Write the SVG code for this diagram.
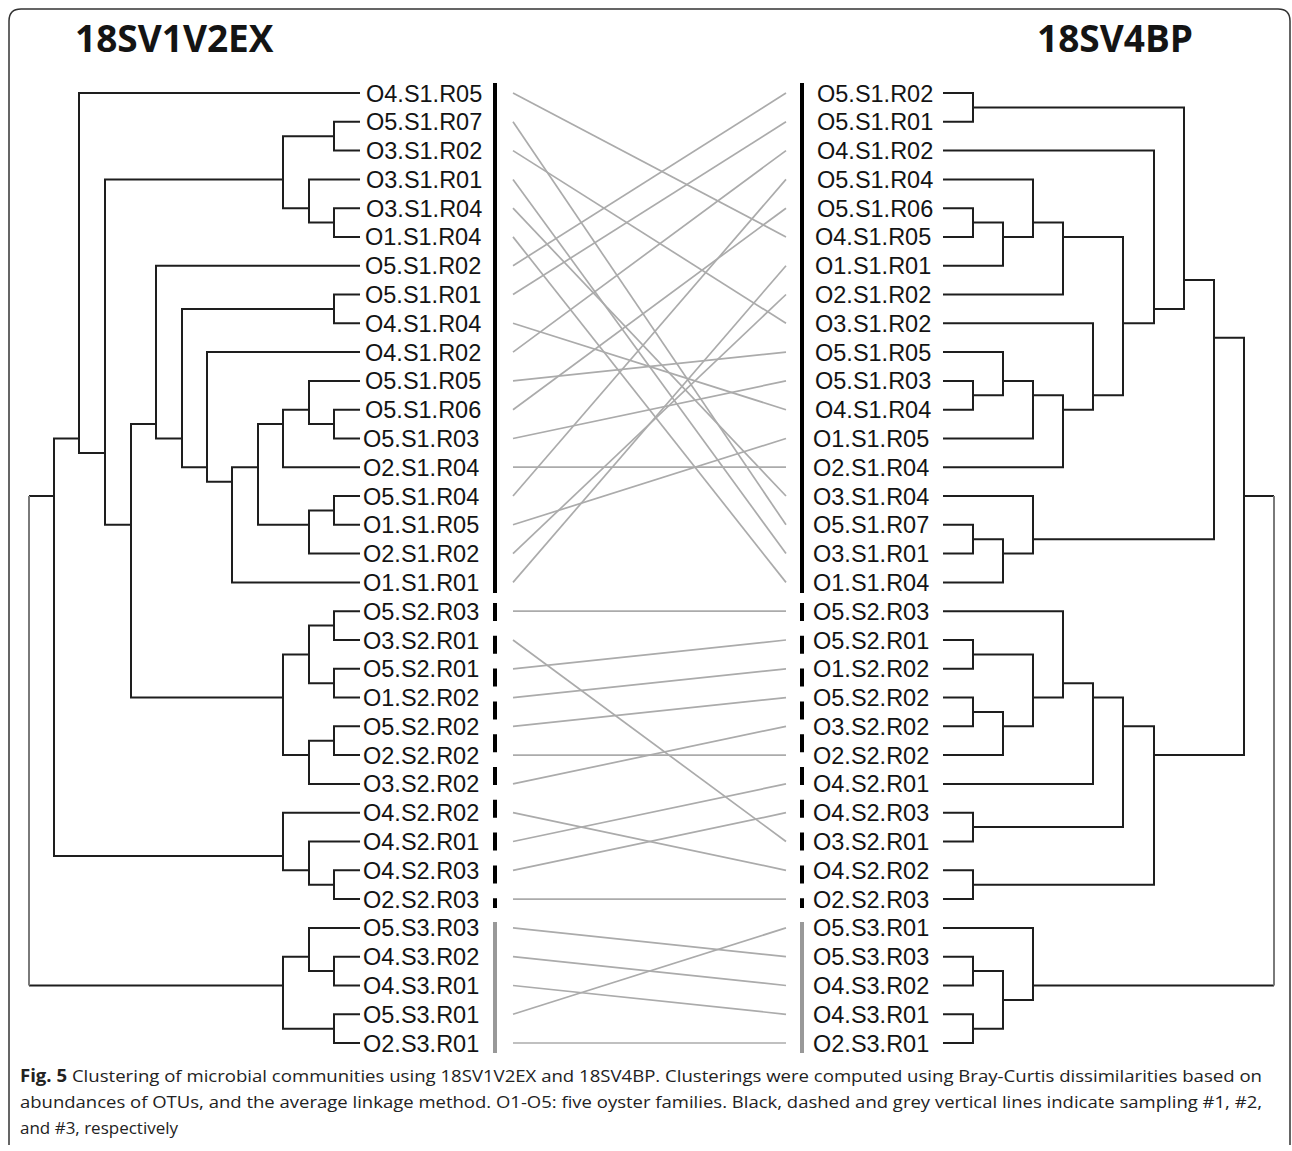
<svg xmlns="http://www.w3.org/2000/svg" width="1292" height="1151" viewBox="0 0 1292 1151">
<style>
.tr{fill:none;stroke:#1e1e1e;stroke-width:2}
.rt{fill:none;stroke:#7a7a7a;stroke-width:2}
.cn{stroke:#ababab;stroke-width:1.7}
.lb{font-family:"Liberation Sans","Open Sans",sans-serif;font-size:23.5px;fill:#141414}
.tt{font-family:"Open Sans","DejaVu Sans",sans-serif;font-size:37px;font-weight:bold;fill:#141414}
.cap{font-family:"Open Sans","Liberation Sans",sans-serif;font-size:17px;fill:#222}
.s1{stroke:#000;stroke-width:4}
.s2{stroke:#000;stroke-width:4;stroke-dasharray:18 14.8}
.s3{stroke:#999;stroke-width:4}
</style>
<rect x="0" y="0" width="1292" height="1151" fill="#fff"/>
<path d="M9 1145 V21 Q9 9 21 9 H1278 Q1290 9 1290 21 V1145" fill="none" stroke="#333" stroke-width="1.5"/>
<g id="titles">
<text class="tt" x="75" y="52">18SV1V2EX</text>
<text class="tt" x="1037" y="52">18SV4BP</text>
</g>
<g id="left-tree">
<path class="tr" d="M360 121.8 H334 V150.6 H360"/>
<path class="tr" d="M360 208.2 H334 V236.9 H360"/>
<path class="tr" d="M360 179.4 H309 V222.6 H334"/>
<path class="tr" d="M334 136.2 H283 V208.2 H309"/>
<path class="tr" d="M360 294.5 H334 V323.3 H360"/>
<path class="tr" d="M360 409.7 H334 V438.5 H360"/>
<path class="tr" d="M360 380.9 H309 V424.1 H334"/>
<path class="tr" d="M309 409.7 H283 V467.2 H360"/>
<path class="tr" d="M360 496 H334 V524.8 H360"/>
<path class="tr" d="M334 510.4 H309 V553.6 H360"/>
<path class="tr" d="M283 424.1 H258 V524.8 H309"/>
<path class="tr" d="M258 467.2 H232 V582.4 H360"/>
<path class="tr" d="M360 352.1 H207 V481.7 H232"/>
<path class="tr" d="M334 308.9 H182 V467.2 H207"/>
<path class="tr" d="M360 265.7 H156 V438.5 H182"/>
<path class="tr" d="M360 611.2 H334 V640 H360"/>
<path class="tr" d="M360 668.8 H334 V697.6 H360"/>
<path class="tr" d="M334 625.6 H309 V683.2 H334"/>
<path class="tr" d="M360 726.3 H334 V755.1 H360"/>
<path class="tr" d="M334 740.7 H309 V783.9 H360"/>
<path class="tr" d="M309 654.4 H283 V755.1 H309"/>
<path class="tr" d="M156 424.1 H131 V697.6 H283"/>
<path class="tr" d="M283 179.4 H105 V524.8 H131"/>
<path class="tr" d="M360 93 H79 V452.9 H105"/>
<path class="tr" d="M360 870.3 H334 V899.1 H360"/>
<path class="tr" d="M360 841.5 H309 V884.7 H334"/>
<path class="tr" d="M360 812.7 H283 V870.3 H309"/>
<path class="tr" d="M79 438.5 H54 V855.9 H283"/>
<path class="tr" d="M360 956.7 H334 V985.5 H360"/>
<path class="tr" d="M360 927.9 H309 V971.1 H334"/>
<path class="tr" d="M360 1014.3 H334 V1043 H360"/>
<path class="tr" d="M309 956.7 H283 V1028.7 H334"/>
<path class="tr" d="M54 496.1 H29 M29 985.5 H283"/>
<path class="rt" d="M29 496.1 V985.5"/>
</g>
<g id="right-tree">
<path class="tr" d="M943 93 H973 V121.8 H943"/>
<path class="tr" d="M943 208.2 H973 V236.9 H943"/>
<path class="tr" d="M973 222.6 H1003 V265.7 H943"/>
<path class="tr" d="M943 179.4 H1033 V237 H1003"/>
<path class="tr" d="M1033 222.6 H1063 V294.5 H943"/>
<path class="tr" d="M943 380.9 H973 V409.7 H943"/>
<path class="tr" d="M943 352.1 H1003 V395.3 H973"/>
<path class="tr" d="M1003 380.9 H1033 V438.5 H943"/>
<path class="tr" d="M1033 395.3 H1063 V467.2 H943"/>
<path class="tr" d="M943 323.3 H1093 V409.7 H1063"/>
<path class="tr" d="M1063 237 H1123 V395.3 H1093"/>
<path class="tr" d="M943 150.6 H1154 V323.3 H1123"/>
<path class="tr" d="M973 107.4 H1184 V308.9 H1154"/>
<path class="tr" d="M943 524.8 H973 V553.6 H943"/>
<path class="tr" d="M973 539.2 H1003 V582.4 H943"/>
<path class="tr" d="M943 496 H1033 V553.6 H1003"/>
<path class="tr" d="M1184 280.1 H1214 V539.2 H1033"/>
<path class="tr" d="M943 640 H973 V668.8 H943"/>
<path class="tr" d="M943 697.6 H973 V726.3 H943"/>
<path class="tr" d="M973 712 H1003 V755.1 H943"/>
<path class="tr" d="M973 654.4 H1033 V726.3 H1003"/>
<path class="tr" d="M943 611.2 H1063 V697.6 H1033"/>
<path class="tr" d="M1063 683.2 H1093 V783.9 H943"/>
<path class="tr" d="M943 812.7 H973 V841.5 H943"/>
<path class="tr" d="M1093 697.6 H1123 V827.1 H973"/>
<path class="tr" d="M943 870.3 H973 V899.1 H943"/>
<path class="tr" d="M1123 726.3 H1154 V884.7 H973"/>
<path class="tr" d="M1214 337.7 H1244 V755.1 H1154"/>
<path class="tr" d="M943 956.7 H973 V985.5 H943"/>
<path class="tr" d="M943 1014.3 H973 V1043 H943"/>
<path class="tr" d="M973 971.1 H1003 V1028.7 H973"/>
<path class="tr" d="M943 927.9 H1033 V999.9 H1003"/>
<path class="tr" d="M1244 496.1 H1274 M1033 985.5 H1274"/>
<path class="rt" d="M1274 496.1 V985.5"/>
</g>
<g id="sampling-bars">
<line class="s1" x1="495" y1="83" x2="495" y2="593"/>
<line class="s2" x1="495" y1="603" x2="495" y2="908"/>
<line class="s3" x1="495" y1="922" x2="495" y2="1053"/>
<line class="s1" x1="802" y1="83" x2="802" y2="593"/>
<line class="s2" x1="802" y1="603" x2="802" y2="908"/>
<line class="s3" x1="802" y1="922" x2="802" y2="1053"/>
</g>
<g id="connectors">
<line class="cn" x1="513" y1="93" x2="786" y2="236.9"/>
<line class="cn" x1="513" y1="121.8" x2="786" y2="524.8"/>
<line class="cn" x1="513" y1="150.6" x2="786" y2="323.3"/>
<line class="cn" x1="513" y1="179.4" x2="786" y2="553.6"/>
<line class="cn" x1="513" y1="208.2" x2="786" y2="496"/>
<line class="cn" x1="513" y1="236.9" x2="786" y2="582.4"/>
<line class="cn" x1="513" y1="265.7" x2="786" y2="93"/>
<line class="cn" x1="513" y1="294.5" x2="786" y2="121.8"/>
<line class="cn" x1="513" y1="323.3" x2="786" y2="409.7"/>
<line class="cn" x1="513" y1="352.1" x2="786" y2="150.6"/>
<line class="cn" x1="513" y1="380.9" x2="786" y2="352.1"/>
<line class="cn" x1="513" y1="409.7" x2="786" y2="208.2"/>
<line class="cn" x1="513" y1="438.5" x2="786" y2="380.9"/>
<line class="cn" x1="513" y1="467.2" x2="786" y2="467.2"/>
<line class="cn" x1="513" y1="496" x2="786" y2="179.4"/>
<line class="cn" x1="513" y1="524.8" x2="786" y2="438.5"/>
<line class="cn" x1="513" y1="553.6" x2="786" y2="294.5"/>
<line class="cn" x1="513" y1="582.4" x2="786" y2="265.7"/>
<line class="cn" x1="513" y1="611.2" x2="786" y2="611.2"/>
<line class="cn" x1="513" y1="640" x2="786" y2="841.5"/>
<line class="cn" x1="513" y1="668.8" x2="786" y2="640"/>
<line class="cn" x1="513" y1="697.6" x2="786" y2="668.8"/>
<line class="cn" x1="513" y1="726.3" x2="786" y2="697.6"/>
<line class="cn" x1="513" y1="755.1" x2="786" y2="755.1"/>
<line class="cn" x1="513" y1="783.9" x2="786" y2="726.3"/>
<line class="cn" x1="513" y1="812.7" x2="786" y2="870.3"/>
<line class="cn" x1="513" y1="841.5" x2="786" y2="783.9"/>
<line class="cn" x1="513" y1="870.3" x2="786" y2="812.7"/>
<line class="cn" x1="513" y1="899.1" x2="786" y2="899.1"/>
<line class="cn" x1="513" y1="927.9" x2="786" y2="956.7"/>
<line class="cn" x1="513" y1="956.7" x2="786" y2="985.5"/>
<line class="cn" x1="513" y1="985.5" x2="786" y2="1014.3"/>
<line class="cn" x1="513" y1="1014.3" x2="786" y2="927.9"/>
<line class="cn" x1="513" y1="1043" x2="786" y2="1043"/>
</g>
<g id="left-labels" class="lb">
<g id="L-O4.S1.R05"><text x="366" y="101.5">O4.S1.R05</text></g>
<g id="L-O5.S1.R07"><text x="366" y="130.3">O5.S1.R07</text></g>
<g id="L-O3.S1.R02"><text x="366" y="159.1">O3.S1.R02</text></g>
<g id="L-O3.S1.R01"><text x="366" y="187.9">O3.S1.R01</text></g>
<g id="L-O3.S1.R04"><text x="366" y="216.7">O3.S1.R04</text></g>
<g id="L-O1.S1.R04"><text x="365" y="245.4">O1.S1.R04</text></g>
<g id="L-O5.S1.R02"><text x="365" y="274.2">O5.S1.R02</text></g>
<g id="L-O5.S1.R01"><text x="365" y="303">O5.S1.R01</text></g>
<g id="L-O4.S1.R04"><text x="365" y="331.8">O4.S1.R04</text></g>
<g id="L-O4.S1.R02"><text x="365" y="360.6">O4.S1.R02</text></g>
<g id="L-O5.S1.R05"><text x="365" y="389.4">O5.S1.R05</text></g>
<g id="L-O5.S1.R06"><text x="365" y="418.2">O5.S1.R06</text></g>
<g id="L-O5.S1.R03"><text x="363" y="447">O5.S1.R03</text></g>
<g id="L-O2.S1.R04"><text x="363" y="475.7">O2.S1.R04</text></g>
<g id="L-O5.S1.R04"><text x="363" y="504.5">O5.S1.R04</text></g>
<g id="L-O1.S1.R05"><text x="363" y="533.3">O1.S1.R05</text></g>
<g id="L-O2.S1.R02"><text x="363" y="562.1">O2.S1.R02</text></g>
<g id="L-O1.S1.R01"><text x="363" y="590.9">O1.S1.R01</text></g>
<g id="L-O5.S2.R03"><text x="363" y="619.7">O5.S2.R03</text></g>
<g id="L-O3.S2.R01"><text x="363" y="648.5">O3.S2.R01</text></g>
<g id="L-O5.S2.R01"><text x="363" y="677.3">O5.S2.R01</text></g>
<g id="L-O1.S2.R02"><text x="363" y="706.1">O1.S2.R02</text></g>
<g id="L-O5.S2.R02"><text x="363" y="734.8">O5.S2.R02</text></g>
<g id="L-O2.S2.R02"><text x="363" y="763.6">O2.S2.R02</text></g>
<g id="L-O3.S2.R02"><text x="363" y="792.4">O3.S2.R02</text></g>
<g id="L-O4.S2.R02"><text x="363" y="821.2">O4.S2.R02</text></g>
<g id="L-O4.S2.R01"><text x="363" y="850">O4.S2.R01</text></g>
<g id="L-O4.S2.R03"><text x="363" y="878.8">O4.S2.R03</text></g>
<g id="L-O2.S2.R03"><text x="363" y="907.6">O2.S2.R03</text></g>
<g id="L-O5.S3.R03"><text x="363" y="936.4">O5.S3.R03</text></g>
<g id="L-O4.S3.R02"><text x="363" y="965.2">O4.S3.R02</text></g>
<g id="L-O4.S3.R01"><text x="363" y="994">O4.S3.R01</text></g>
<g id="L-O5.S3.R01"><text x="363" y="1022.8">O5.S3.R01</text></g>
<g id="L-O2.S3.R01"><text x="363" y="1051.5">O2.S3.R01</text></g>
</g>
<g id="right-labels" class="lb">
<g id="R-O5.S1.R02"><text x="817" y="101.5">O5.S1.R02</text></g>
<g id="R-O5.S1.R01"><text x="817" y="130.3">O5.S1.R01</text></g>
<g id="R-O4.S1.R02"><text x="817" y="159.1">O4.S1.R02</text></g>
<g id="R-O5.S1.R04"><text x="817" y="187.9">O5.S1.R04</text></g>
<g id="R-O5.S1.R06"><text x="817" y="216.7">O5.S1.R06</text></g>
<g id="R-O4.S1.R05"><text x="815" y="245.4">O4.S1.R05</text></g>
<g id="R-O1.S1.R01"><text x="815" y="274.2">O1.S1.R01</text></g>
<g id="R-O2.S1.R02"><text x="815" y="303">O2.S1.R02</text></g>
<g id="R-O3.S1.R02"><text x="815" y="331.8">O3.S1.R02</text></g>
<g id="R-O5.S1.R05"><text x="815" y="360.6">O5.S1.R05</text></g>
<g id="R-O5.S1.R03"><text x="815" y="389.4">O5.S1.R03</text></g>
<g id="R-O4.S1.R04"><text x="815" y="418.2">O4.S1.R04</text></g>
<g id="R-O1.S1.R05"><text x="813" y="447">O1.S1.R05</text></g>
<g id="R-O2.S1.R04"><text x="813" y="475.7">O2.S1.R04</text></g>
<g id="R-O3.S1.R04"><text x="813" y="504.5">O3.S1.R04</text></g>
<g id="R-O5.S1.R07"><text x="813" y="533.3">O5.S1.R07</text></g>
<g id="R-O3.S1.R01"><text x="813" y="562.1">O3.S1.R01</text></g>
<g id="R-O1.S1.R04"><text x="813" y="590.9">O1.S1.R04</text></g>
<g id="R-O5.S2.R03"><text x="813" y="619.7">O5.S2.R03</text></g>
<g id="R-O5.S2.R01"><text x="813" y="648.5">O5.S2.R01</text></g>
<g id="R-O1.S2.R02"><text x="813" y="677.3">O1.S2.R02</text></g>
<g id="R-O5.S2.R02"><text x="813" y="706.1">O5.S2.R02</text></g>
<g id="R-O3.S2.R02"><text x="813" y="734.8">O3.S2.R02</text></g>
<g id="R-O2.S2.R02"><text x="813" y="763.6">O2.S2.R02</text></g>
<g id="R-O4.S2.R01"><text x="813" y="792.4">O4.S2.R01</text></g>
<g id="R-O4.S2.R03"><text x="813" y="821.2">O4.S2.R03</text></g>
<g id="R-O3.S2.R01"><text x="813" y="850">O3.S2.R01</text></g>
<g id="R-O4.S2.R02"><text x="813" y="878.8">O4.S2.R02</text></g>
<g id="R-O2.S2.R03"><text x="813" y="907.6">O2.S2.R03</text></g>
<g id="R-O5.S3.R01"><text x="813" y="936.4">O5.S3.R01</text></g>
<g id="R-O5.S3.R03"><text x="813" y="965.2">O5.S3.R03</text></g>
<g id="R-O4.S3.R02"><text x="813" y="994">O4.S3.R02</text></g>
<g id="R-O4.S3.R01"><text x="813" y="1022.8">O4.S3.R01</text></g>
<g id="R-O2.S3.R01"><text x="813" y="1051.5">O2.S3.R01</text></g>
</g>
<g id="caption" class="cap">
<text x="20" y="1082" textLength="1242" lengthAdjust="spacingAndGlyphs"><tspan font-weight="bold">Fig. 5</tspan> Clustering of microbial communities using 18SV1V2EX and 18SV4BP. Clusterings were computed using Bray-Curtis dissimilarities based on</text>
<text x="20" y="1108" textLength="1242" lengthAdjust="spacingAndGlyphs">abundances of OTUs, and the average linkage method. O1-O5: five oyster families. Black, dashed and grey vertical lines indicate sampling #1, #2,</text>
<text x="20" y="1134" textLength="158" lengthAdjust="spacingAndGlyphs">and #3, respectively</text>
</g>
</svg>
